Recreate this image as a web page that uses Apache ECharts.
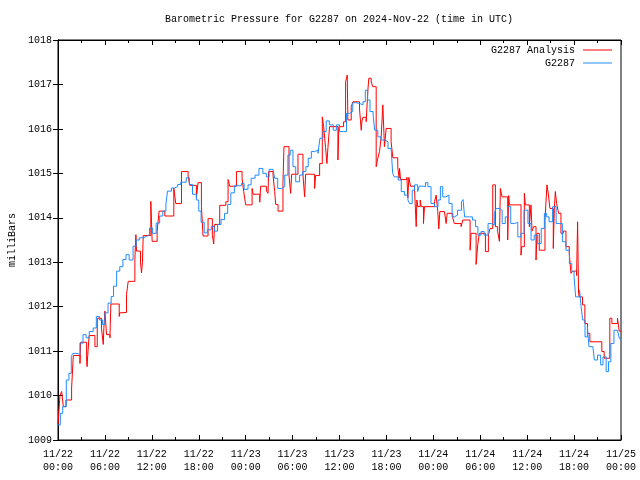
<!DOCTYPE html>
<html>
<head>
<meta charset="utf-8">
<script src="https://cdn.jsdelivr.net/npm/echarts@6/dist/echarts.min.js"></script>
<style>
html,body{margin:0;padding:0;background:#fff;}
#chart{width:640px;height:480px;}
</style>
</head>
<body>
<div id="chart"></div>
<script>
// hours after 2024-11-22 00:00 UTC
const xTickLabels = ['11/22\n00:00','11/22\n06:00','11/22\n12:00','11/22\n18:00','11/23\n00:00','11/23\n06:00','11/23\n12:00','11/23\n18:00','11/24\n00:00','11/24\n06:00','11/24\n12:00','11/24\n18:00','11/25\n00:00'];
const yTicks = [1009,1010,1011,1012,1013,1014,1015,1016,1017,1018];
const seriesNames = ['G2287 Analysis','G2287'];

// [hour, mb] step values for the analysis series
const analysisData = [[0,1009.34],[0.25,1010.0],[0.47,1010.09],[0.68,1009.75],[1.02,1009.9],[1.74,1010.17],[1.96,1010.9],[2.81,1010.72],[2.89,1011.2],[3.66,1010.77],[3.72,1010.65],[3.8,1010.9],[3.98,1011.35],[4.72,1011.1],[5.02,1011.74],[5.57,1011.5],[5.79,1011.15],[5.86,1011.5],[6.0,1011.9],[6.21,1011.37],[6.64,1011.3],[6.76,1012.06],[7.83,1011.78],[7.9,1011.86],[8.13,1011.87],[8.76,1012.27],[8.98,1012.57],[9.83,1013.06],[9.96,1013.62],[10.04,1013.25],[10.55,1013.0],[10.68,1012.76],[10.8,1013.0],[10.9,1013.6],[11.87,1014.37],[11.96,1013.9],[12.04,1013.47],[12.68,1013.7],[12.93,1014.15],[13.66,1014.04],[14.81,1014.67],[15.06,1014.32],[15.79,1015.04],[16.64,1014.94],[16.85,1014.73],[17.7,1014.45],[17.91,1014.79],[18.34,1014.26],[18.55,1013.59],[19.19,1013.98],[19.74,1013.62],[19.91,1013.41],[20.04,1013.85],[20.68,1014.28],[21.46,1014.36],[21.75,1014.86],[21.97,1014.71],[22.82,1015.04],[23.54,1014.89],[23.75,1014.59],[24.0,1014.29],[24.82,1014.66],[24.95,1014.53],[25.8,1014.35],[25.92,1014.71],[26.65,1014.6],[26.86,1014.55],[26.94,1015.04],[27.5,1014.96],[27.71,1014.59],[27.84,1014.3],[28.14,1014.15],[28.77,1014.79],[28.9,1015.6],[29.54,1014.96],[29.75,1014.55],[29.88,1014.98],[30.69,1015.43],[31.33,1014.96],[31.54,1014.47],[31.67,1014.98],[32.82,1014.66],[32.94,1014.95],[33.46,1015.22],[33.8,1016.27],[33.97,1016.05],[34.22,1015.58],[34.39,1015.22],[34.52,1015.58],[34.73,1016.05],[35.8,1015.3],[35.92,1016.05],[36.52,1016.16],[36.78,1017.06],[36.99,1017.21],[37.07,1016.2],[37.5,1016.5],[37.71,1016.61],[38.56,1016.45],[38.78,1015.97],[38.86,1016.16],[38.99,1016.26],[39.41,1016.16],[39.63,1016.87],[39.75,1017.14],[40.05,1017.06],[40.26,1016.95],[40.69,1015.15],[40.9,1015.34],[41.12,1015.49],[41.33,1015.82],[41.54,1016.54],[41.75,1015.6],[41.97,1016.01],[42.6,1015.71],[42.82,1015.35],[43.45,1015.15],[43.62,1014.89],[43.68,1015.11],[43.81,1014.86],[44.62,1014.91],[44.74,1014.45],[44.87,1014.91],[45.08,1014.71],[45.6,1014.62],[45.81,1013.8],[45.89,1014.4],[46.02,1014.25],[46.32,1014.4],[46.45,1014.25],[46.74,1013.87],[46.87,1014.25],[48.15,1014.36],[48.36,1014.51],[48.57,1014.14],[48.7,1013.75],[48.83,1014.14],[49.42,1014.1],[49.64,1013.87],[49.77,1014.1],[50.49,1013.99],[50.7,1013.87],[51.55,1013.8],[51.77,1013.95],[52.7,1013.27],[52.77,1013.46],[52.83,1013.65],[53.47,1012.95],[53.55,1013.12],[53.68,1013.39],[53.89,1013.65],[54.66,1013.24],[55.04,1013.61],[55.25,1013.76],[55.6,1014.74],[55.94,1013.8],[56.23,1013.69],[56.45,1013.47],[56.57,1014.66],[56.79,1014.47],[57.51,1013.5],[57.64,1014.5],[57.72,1014.29],[59.21,1013.16],[59.3,1013.35],[59.64,1014.55],[59.77,1014.29],[60.28,1013.8],[60.49,1014.29],[60.62,1013.7],[60.83,1013.8],[61.13,1013.05],[61.26,1013.65],[61.55,1013.27],[62.28,1013.95],[62.53,1014.74],[62.7,1014.55],[62.91,1014.21],[63.34,1013.31],[63.47,1014.2],[63.6,1014.59],[63.77,1014.32],[64.02,1014.1],[64.32,1013.65],[64.62,1013.7],[64.96,1013.35],[65.38,1013.2],[65.6,1012.75],[65.81,1012.8],[66.32,1012.7],[66.45,1013.91],[66.57,1012.3],[66.66,1012.22],[67.08,1012.04],[67.38,1011.62],[67.72,1011.4],[68.02,1011.21],[69.55,1010.99],[69.85,1010.84],[70.57,1011.74],[70.83,1011.62],[71.55,1011.74],[71.77,1011.45],[72,1011.45]];

// [hour, mb] observed station series
const observedData = [[0,1009.34],[0.3,1009.6],[0.6,1009.75],[1.06,1010.35],[1.4,1010.5],[1.7,1010.88],[1.9,1010.95],[2.3,1010.93],[2.8,1011.18],[3.2,1011.37],[3.6,1011.3],[4.0,1011.44],[4.5,1011.52],[4.9,1011.78],[5.3,1011.7],[5.7,1011.6],[6.0,1011.86],[6.4,1012.08],[6.8,1012.23],[7.1,1012.46],[7.5,1012.8],[7.9,1012.9],[8.3,1013.06],[8.7,1013.17],[9.1,1013.05],[9.6,1013.36],[10.0,1013.5],[10.4,1013.55],[10.9,1013.58],[11.3,1013.62],[11.7,1013.77],[12.1,1013.65],[12.55,1013.88],[13.0,1014.04],[13.4,1014.15],[13.8,1014.3],[14.0,1014.6],[14.5,1014.67],[14.9,1014.7],[15.3,1014.75],[15.7,1014.8],[16.4,1014.9],[16.8,1014.75],[17.2,1014.53],[17.7,1014.4],[18.0,1014.15],[18.3,1013.9],[18.7,1013.66],[19.1,1013.73],[19.6,1013.8],[20.0,1013.7],[20.4,1013.85],[20.85,1013.96],[21.3,1014.1],[21.7,1014.3],[22.1,1014.56],[22.55,1014.72],[23.0,1014.72],[23.45,1014.77],[23.8,1014.64],[24.3,1014.74],[24.7,1014.89],[25.2,1014.96],[25.7,1015.11],[26.2,1015.0],[26.65,1014.92],[27.0,1015.09],[27.5,1015.07],[27.7,1014.89],[28.1,1014.66],[28.6,1014.7],[29.0,1014.96],[29.4,1015.41],[29.7,1015.52],[30.05,1015.15],[30.4,1014.81],[30.9,1014.96],[31.3,1015.04],[31.7,1015.15],[32.0,1015.34],[32.4,1015.49],[32.8,1015.52],[33.25,1015.45],[33.5,1015.79],[33.9,1015.94],[34.3,1016.18],[34.7,1016.09],[35.2,1015.97],[35.6,1016.09],[36.0,1015.94],[36.5,1015.94],[36.9,1016.35],[37.3,1016.39],[37.7,1016.59],[38.1,1016.57],[38.6,1016.54],[39.0,1016.61],[39.3,1016.87],[39.6,1016.65],[39.9,1016.39],[40.3,1016.31],[40.5,1015.97],[40.9,1015.82],[41.3,1015.75],[41.8,1015.71],[42.2,1015.56],[42.6,1015.52],[42.8,1015.0],[43.0,1014.92],[43.5,1014.85],[43.9,1014.59],[44.3,1014.51],[44.75,1014.4],[44.96,1014.32],[45.3,1014.62],[45.6,1014.74],[46.0,1014.59],[46.2,1014.71],[46.7,1014.7],[47.0,1014.79],[47.3,1014.7],[47.7,1014.32],[48.15,1014.25],[48.6,1014.4],[48.9,1014.7],[49.2,1014.47],[49.6,1014.51],[50.0,1014.32],[50.4,1014.02],[50.7,1014.06],[51.1,1014.17],[51.6,1014.36],[51.8,1014.41],[52.0,1014.02],[52.6,1014.02],[53.0,1013.95],[53.4,1013.8],[53.7,1013.61],[54.1,1013.69],[54.5,1013.61],[55.0,1013.87],[55.4,1013.84],[55.8,1014.1],[56.0,1014.21],[56.45,1014.17],[56.8,1013.87],[57.2,1014.02],[57.5,1014.25],[57.9,1013.87],[58.4,1013.9],[58.8,1013.57],[59.2,1013.65],[59.6,1014.17],[60.1,1013.87],[60.5,1013.5],[60.9,1013.61],[61.3,1013.42],[61.8,1013.76],[62.2,1014.1],[62.5,1014.02],[62.8,1013.91],[63.25,1014.25],[63.7,1013.87],[64.1,1013.87],[64.5,1013.46],[64.96,1013.27],[65.4,1012.97],[65.7,1012.79],[66.0,1012.67],[66.2,1012.22],[66.7,1012.37],[66.9,1012.0],[67.1,1011.7],[67.4,1011.32],[67.7,1011.55],[67.9,1011.1],[68.4,1011.1],[68.6,1010.8],[69.0,1010.91],[69.4,1010.69],[69.7,1010.87],[70.1,1010.54],[70.4,1010.76],[70.7,1011.17],[71.1,1011.47],[71.55,1011.47],[71.8,1011.28],[72,1011.28]];

const FONT = '"Liberation Mono","DejaVu Sans Mono",monospace';
const chart = echarts.init(document.getElementById('chart'), null, {renderer:'canvas'});

const tickCommon = {inside:true, length:5, lineStyle:{color:'#000', width:1}};
const minorCommon = {show:true, splitNumber:2, length:3, lineStyle:{color:'#000', width:1}};
const legendCommon = {orient:'vertical', align:'right', right:28, itemWidth:29, itemHeight:1, padding:0, icon:'rect',
  textStyle:{fontFamily:FONT, fontSize:10, color:'#000', padding:[0,3,0,0]}};

chart.setOption({
  animation:false,
  backgroundColor:'#fff',
  title:{
    text:'Barometric Pressure for G2287 on 2024-Nov-22 (time in UTC)',
    left:165, top:14, padding:0,
    textStyle:{fontFamily:FONT, fontSize:10, fontWeight:'normal', color:'#000'}
  },
  legend:[
    Object.assign({data:[seriesNames[0]], top:45}, legendCommon),
    Object.assign({data:[seriesNames[1]], top:58}, legendCommon)
  ],
  grid:{left:58, right:19, top:40, bottom:40, show:true, borderColor:'#000', borderWidth:1,
        backgroundColor:'transparent', containLabel:false, outerBoundsMode:'none'},
  xAxis:[
    {type:'value', min:0, max:72, interval:6, position:'bottom',
     axisLine:{show:true, lineStyle:{color:'#000'}},
     axisTick:tickCommon, minorTick:minorCommon,
     splitLine:{show:false},
     axisLabel:{fontFamily:FONT, fontSize:10, color:'#000', margin:8, lineHeight:13,
       formatter:function(v){return xTickLabels[Math.round(v/6)];}}},
    {type:'value', min:0, max:72, interval:6, position:'top',
     axisLine:{show:true, lineStyle:{color:'#000'}},
     axisTick:tickCommon, minorTick:minorCommon,
     splitLine:{show:false}, axisLabel:{show:false}}
  ],
  yAxis:[
    {type:'value', min:yTicks[0], max:yTicks[yTicks.length-1], interval:1, position:'left',
     name:'milliBars', nameLocation:'middle', nameGap:40, nameRotate:90,
     nameTextStyle:{fontFamily:FONT, fontSize:10, color:'#000'},
     axisLine:{show:true, lineStyle:{color:'#000'}},
     axisTick:tickCommon, splitLine:{show:false},
     axisLabel:{fontFamily:FONT, fontSize:10, color:'#000', margin:6,
       formatter:function(v){return String(v);}}},
    {type:'value', min:yTicks[0], max:yTicks[yTicks.length-1], interval:1, position:'right',
     axisLine:{show:true, lineStyle:{color:'#000'}},
     axisTick:tickCommon, splitLine:{show:false}, axisLabel:{show:false}}
  ],
  series:[
    {name:seriesNames[0], type:'line', step:'end', data:analysisData, symbol:'none',
     lineStyle:{color:'#ff0000', width:1}, itemStyle:{color:'#ff0000'}, xAxisIndex:0, yAxisIndex:0},
    {name:seriesNames[1], type:'line', step:'end', data:observedData, symbol:'none',
     lineStyle:{color:'#1e8cff', width:1}, itemStyle:{color:'#1e8cff'}, xAxisIndex:0, yAxisIndex:0}
  ]
});
</script>
</body>
</html>
